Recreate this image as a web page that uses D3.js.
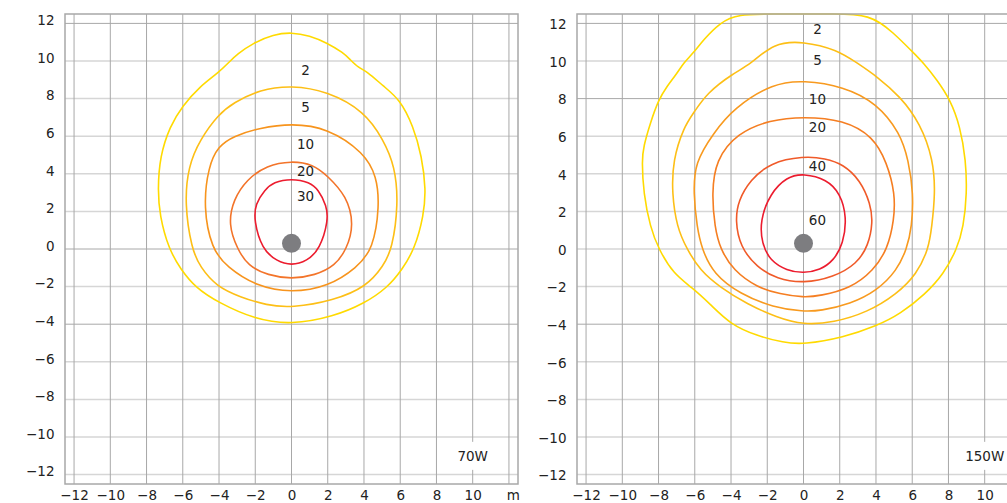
<!DOCTYPE html>
<html>
<head>
<meta charset="utf-8">
<script src="https://cdn.jsdelivr.net/npm/d3@7"></script>
<style>
body { margin: 0; background: #fff; }
text { font-family: "DejaVu Sans", sans-serif; font-size: 13.5px; fill: #222; }
</style>
</head>
<body>
<svg id="chart" width="1007" height="503"></svg>
<script>
(function() {

const w = 1007;
const h = 503;

// axis ticks (metres)
const xTicks = [-12, -10, -8, -6, -4, -2, 0, 2, 4, 6, 8, 10, 12];
const yTicks = [12, 10, 8, 6, 4, 2, 0, -2, -4, -6, -8, -10, -12];

// lux levels of each panel
const levels70 = [2, 5, 10, 20, 30];
const levels150 = [2, 5, 10, 20, 40, 60];

// where the level numbers sit (metres)
const labels70 = [[0.78, 9.5], [0.78, 7.53], [0.78, 5.56], [0.78, 4.12], [0.78, 2.81]];
const labels150 = [[0.77, 11.72], [0.77, 10.04], [0.77, 7.97], [0.77, 6.46], [0.77, 4.43], [0.77, 1.52]];

const lamp = [0, 0.3];

// isolux lines
const c70_2 = [[0, 11.53], [1.0, 11.35], [1.94, 10.97], [2.86, 10.44], [3.23, 10.08], [3.69, 9.64],
    [4.15, 9.46], [5.07, 8.66], [5.99, 7.95], [6.72, 6.53], [7.19, 4.94], [7.42, 3.16], [7.3, 1.8],
    [6.8, 0], [6.1, -1.1], [5.3, -2.05], [4.02, -2.9], [2.31, -3.6], [0, -4.03], [-2.0, -3.75],
    [-4.04, -2.85], [-5.3, -2.05], [-6.1, -1.1], [-6.78, 0], [-7.28, 1.8], [-7.38, 3.16], [-7.26, 4.94],
    [-6.71, 6.53], [-6.03, 7.6], [-5.05, 8.66], [-4.04, 9.37], [-3.39, 9.99], [-3.02, 10.35],
    [-2.1, 10.97], [-1.0, 11.41]];
const c70_5 = [[0, 8.71], [1.98, 8.39], [4.02, 7.33], [5.07, 5.82], [5.71, 4.4], [5.9, 2.4], [5.56, 0],
    [5.07, -0.9], [4.15, -2.0], [2.31, -2.75], [0, -3.13], [-1.37, -3.0], [-2.84, -2.55], [-4.13, -2.0],
    [-5.05, -0.95], [-5.51, 0], [-5.9, 2.4], [-5.7, 4.4], [-5.05, 5.82], [-4.04, 7.15], [-3.21, 7.78],
    [-1.74, 8.48]];
const c70_10 = [[0, 6.68], [1.98, 6.45], [4.02, 5.12], [4.7, 3.87], [4.86, 2.3], [4.51, 0], [3.6, -1.0],
    [2.03, -2.0], [0, -2.33], [-1.92, -2.0], [-3.58, -0.95], [-4.4, 0], [-4.87, 2.2], [-4.59, 4.4],
    [-4.04, 5.47], [-3.21, 6.0], [-1.74, 6.45]];
const c70_20 = [[0, 4.69], [1.2, 4.5], [1.98, 3.9], [3.05, 2.81], [3.45, 1.3], [3.05, 0], [2.4, -0.9],
    [1.3, -1.4], [0, -1.6], [-1.3, -1.4], [-2.4, -0.9], [-2.99, 0], [-3.49, 1.3], [-3.21, 2.63],
    [-2.47, 3.7], [-1.37, 4.45]];
const c70_30 = [[0, 3.75], [1.0, 3.55], [1.48, 3.16], [1.94, 2.3], [2.03, 1.5], [1.57, 0], [0.85, -0.65],
    [0, -0.88], [-0.82, -0.65], [-1.63, 0], [-2.07, 1.5], [-2.0, 2.4], [-1.46, 3.16], [-1.0, 3.55]];

// isolux lines (the 2 lux line runs off the top)
const c150_2 = [[-3.67, 12.5], [-1.5, 12.5], [0, 12.5], [1.5, 12.5], [3.68, 12.5], [4.97, 11.5],
    [5.98, 10.52], [6.62, 9.9], [7.36, 9.0], [8.1, 7.94], [8.65, 6.5], [8.96, 4.73], [9.02, 2.95],
    [8.83, 1.17], [8.47, 0], [7.73, -1.33], [6.72, -2.4], [5.34, -3.46], [4.05, -4.09], [2.2, -4.71],
    [0, -5.08], [-1.1, -4.98], [-2.57, -4.62], [-4.05, -4.0], [-5.15, -2.93], [-6.16, -2.04],
    [-7.17, -1.33], [-8.0, 0], [-8.46, 1.17], [-8.83, 2.95], [-8.92, 4.73], [-8.83, 5.44], [-8.46, 6.69],
    [-8.0, 7.94], [-7.54, 8.65], [-6.99, 9.33], [-6.62, 9.9], [-6.07, 10.43], [-5.52, 11.14], [-4.6, 12.04]];
const c150_5 = [[0, 11.05], [1.84, 10.6], [2.95, 9.9], [4.05, 9.18], [5.34, 8.11], [6.44, 6.69],
    [7.17, 4.73], [7.27, 2.95], [7.08, 1.17], [6.9, 0], [6.25, -1.33], [5.15, -2.4], [3.5, -3.38],
    [1.66, -3.91], [0, -4.04], [-1.47, -3.64], [-3.12, -2.93], [-4.6, -2.04], [-5.7, -1.15], [-6.44, 0],
    [-6.99, 1.17], [-7.26, 2.95], [-7.21, 4.73], [-6.6, 6.5], [-6.07, 7.23], [-5.33, 8.3], [-3.86, 9.36],
    [-2.94, 9.8], [-1.66, 10.97]];
const c150_10 = [[0, 8.97], [2.2, 8.65], [4.05, 7.76], [5.34, 6.16], [5.79, 4.73], [6.07, 2.95],
    [5.98, 1.17], [5.7, 0], [5.15, -1.15], [4.05, -2.22], [2.58, -2.93], [0.92, -3.29], [0, -3.33],
    [-1.66, -3.11], [-3.49, -2.4], [-4.97, -1.33], [-5.61, 0], [-5.88, 1.17], [-6.07, 2.95], [-6.0, 4.6],
    [-4.97, 6.16], [-3.86, 7.49], [-1.66, 8.83]];
const c150_20 = [[0, 7.04], [2.2, 6.87], [3.86, 5.98], [4.6, 4.6], [5.06, 2.95], [5.0, 1.52], [4.64, 0],
    [3.86, -1.15], [2.58, -2.1], [0.92, -2.49], [0, -2.58], [-1.29, -2.4], [-2.57, -2.04], [-3.86, -1.15],
    [-4.6, 0], [-4.9, 1.17], [-5.06, 2.95], [-4.85, 4.73], [-3.67, 6.16], [-1.84, 6.87]];
const c150_40 = [[0, 4.94], [1.2, 4.82], [2.2, 4.5], [3.13, 3.66], [3.7, 2.4], [3.83, 1.43], [3.58, 0.19],
    [2.95, -0.79], [1.66, -1.5], [0, -1.83], [-1.47, -1.59], [-2.57, -0.97], [-3.49, 0.1], [-3.77, 1.52],
    [-3.59, 2.59], [-2.94, 3.66], [-1.84, 4.6]];
const c150_60 = [[0, 4.02], [1.29, 3.7], [2.03, 2.95], [2.39, 1.7], [2.2, 0.28], [1.66, -0.62],
    [0.92, -1.12], [0, -1.29], [-0.92, -1.15], [-1.84, -0.62], [-2.3, 0.28], [-2.4, 1.52], [-1.84, 2.95],
    [-0.92, 3.84]];

const colour70 = {2: "#ffda00", 5: "#fdbf16", 10: "#f7941d", 20: "#f3742a", 30: "#ec1c2e"};
const colour150 = {2: "#ffda00", 5: "#fdbf16", 10: "#f89a1f", 20: "#f57e22", 40: "#f05a29", 60: "#ec1c2e"};

const panels = [
    {left: 65, top: 14, bottom: 484, watt: "70W", levels: levels70, lines: [c70_2, c70_5, c70_10, c70_20, c70_30],
        labels: labels70, colours: colour70, dark: [12, 0, -4], yShift: -3},
    {left: 577, top: 14, bottom: 484, watt: "150W", levels: levels150,
        lines: [c150_2, c150_5, c150_10, c150_20, c150_40, c150_60],
        labels: labels150, colours: colour150, dark: [12, 8, -4], yShift: 1}
];

const pw = 453;
const fmt = d3.format("d");

const svg = d3.select("#chart")
    .attr("viewBox", `0 0 ${w} ${h}`);

panels.forEach(function(p, pi) {
    const x = d3.scaleLinear().domain([-12.5, 12.5]).range([p.left, p.left + pw]);
    const y = d3.scaleLinear().domain([-12.5, 12.5]).range([p.bottom, p.top]);
    const g = svg.append("g");

    // grid
    g.selectAll("line.hgrid")
        .data(yTicks)
        .enter()
        .append("line")
        .attr("class", "hgrid")
        .attr("x1", p.left)
        .attr("x2", p.left + pw)
        .attr("y1", function(d) { return y(d); })
        .attr("y2", function(d) { return y(d); })
        .attr("stroke", function(d) { return p.dark.indexOf(d) >= 0 ? "#a8a8a8" : "#d6d6d6"; })
        .attr("stroke-width", function(d) { return p.dark.indexOf(d) >= 0 ? 1 : 1.5; });

    g.selectAll("line.vgrid")
        .data(xTicks)
        .enter()
        .append("line")
        .attr("class", "vgrid")
        .attr("x1", function(d) { return x(d); })
        .attr("x2", function(d) { return x(d); })
        .attr("y1", p.top)
        .attr("y2", p.bottom)
        .attr("stroke", "#a8a8a8")
        .attr("stroke-width", 1);

    // clip for the isolux lines
    const clipId = "clip" + pi;
    svg.append("clipPath")
        .attr("id", clipId)
        .append("rect")
        .attr("x", p.left)
        .attr("y", p.top - 1.5)
        .attr("width", pw)
        .attr("height", p.bottom - p.top + 1.5);

    // b-spline smooths out the reading error of the hand-picked points
    const line = d3.line()
        .x(function(d) { return x(d[0]); })
        .y(function(d) { return y(d[1]); })
        .curve(d3.curveBasisClosed);

    g.append("g")
        .attr("clip-path", `url(#${clipId})`)
        .selectAll("path")
        .data(p.lines)
        .enter()
        .append("path")
        .attr("d", line)
        .attr("fill", "none")
        .attr("stroke", function(d, i) { return p.colours[p.levels[i]]; })
        .attr("stroke-width", 1.6);

    // lamp
    g.append("circle")
        .attr("cx", x(lamp[0]))
        .attr("cy", y(lamp[1]))
        .attr("r", 9.5)
        .attr("fill", "#7d7d80");

    // level numbers
    g.selectAll("text.level")
        .data(p.labels)
        .enter()
        .append("text")
        .attr("class", "level")
        .attr("x", function(d) { return x(d[0]); })
        .attr("y", function(d) { return y(d[1]); })
        .attr("dy", "0.36em")
        .attr("text-anchor", "middle")
        .text(function(d, i) { return p.levels[i]; });

    // frame
    g.append("rect")
        .attr("x", p.left)
        .attr("y", p.top)
        .attr("width", pw)
        .attr("height", p.bottom - p.top)
        .attr("fill", "none")
        .attr("stroke", "#a8a8a8")
        .attr("stroke-width", 1.5);

    // axes (labels only)
    const xAxis = d3.axisBottom(x)
        .tickValues(xTicks)
        .tickSize(0)
        .tickPadding(6)
        .tickFormat(function(d) { return d === 12 ? "m" : fmt(d); });

    const yAxis = d3.axisLeft(y)
        .tickValues(yTicks)
        .tickSize(0)
        .tickPadding(10.5)
        .tickFormat(fmt);

    const xg = g.append("g")
        .attr("transform", `translate(0,${p.bottom})`)
        .call(xAxis);
    const yg = g.append("g")
        .attr("transform", `translate(${p.left},${p.yShift})`)
        .call(yAxis);

    [xg, yg].forEach(function(a) {
        a.select(".domain").remove();
        a.attr("font-family", null).attr("font-size", null);
        a.selectAll("text").attr("fill", "#222");
    });
    xg.selectAll(".tick").filter(function(d) { return d === 12; })
        .select("text").attr("x", 4);

    // wattage tag
    const tag = g.append("g");
    const tagText = tag.append("text")
        .attr("x", x(10))
        .attr("y", p.bottom - 28)
        .attr("dy", "0.36em")
        .attr("text-anchor", "middle")
        .text(p.watt);
    const bb = tagText.node().getBBox();
    tag.insert("rect", "text")
        .attr("x", bb.x - 4)
        .attr("y", bb.y - 6)
        .attr("width", bb.width + 8)
        .attr("height", bb.height + 12)
        .attr("fill", "#fff");
});

})();
</script>
</body>
</html>
